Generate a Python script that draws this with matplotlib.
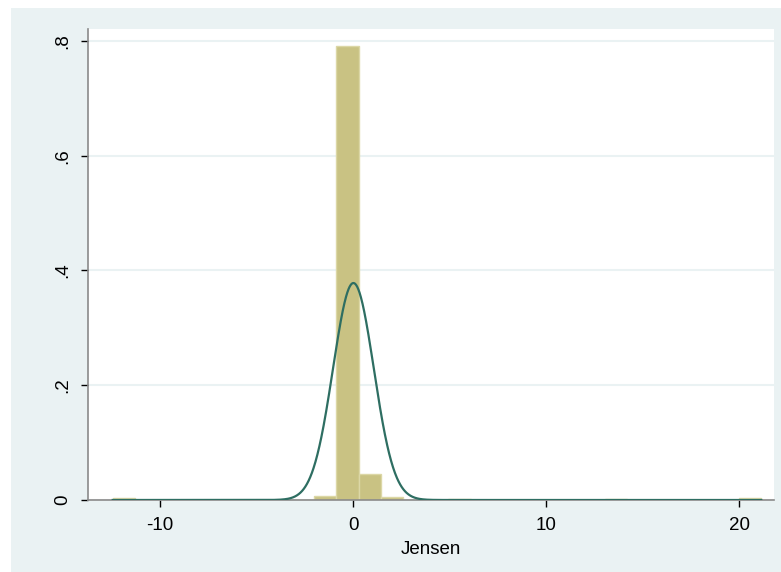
import numpy as np
import matplotlib
matplotlib.use("Agg")
import matplotlib.pyplot as plt
from matplotlib.patches import Rectangle

plt.rcParams['font.family'] = ['Liberation Sans', 'DejaVu Sans']

# Histogram of Jensen's alpha (density scale)
bin_start = -12.45
bin_width = 1.1586
bin_density = [0.0028, 0, 0, 0, 0, 0, 0, 0, 0, 0.0075,
               0.792, 0.046, 0.0046, 0, 0, 0.0026, 0, 0, 0, 0,
               0, 0, 0.0026, 0, 0, 0, 0, 0, 0.0028]

# Normal density overlay parameters
norm_mean = 0.02
norm_sd = 1.055

x_ticks = [-10, 0, 10, 20]
y_ticks = [0, 0.2, 0.4, 0.6, 0.8]
y_tick_labels = ["0", ".2", ".4", ".6", ".8"]
x_title = "Jensen"

bg = "#EAF2F3"
bar_fill = "#C9C283"
bar_edge = "#DCD7A6"
curve_col = "#2E6E62"

fig = plt.figure(figsize=(7.81, 5.72), dpi=100)
fig.patch.set_facecolor("white")
fig.patches.append(Rectangle((11 / 781, 0), 1 - 11 / 781, 1 - 8 / 572,
                             transform=fig.transFigure, facecolor=bg,
                             edgecolor="none", zorder=-10))

ax = fig.add_axes([88 / 781, 1 - 500 / 572, (774 - 88) / 781, (500 - 29) / 572])
ax.set_facecolor("white")

n_bins = len(bin_density)
edges = bin_start + bin_width * np.arange(n_bins + 1)
ax.bar(edges[:-1], bin_density, width=bin_width, align="edge",
       color=bar_fill, edgecolor=bar_edge, linewidth=1.0, zorder=2)

xs = np.linspace(edges[0], edges[-1], 2000)
ys = np.exp(-0.5 * ((xs - norm_mean) / norm_sd) ** 2) / (norm_sd * np.sqrt(2 * np.pi))
ax.plot(xs, ys, color=curve_col, linewidth=1.6, zorder=3)

ax.set_xlim(-13.73, 21.81)
ax.set_ylim(0, 0.8209)

ax.set_xticks(x_ticks)
ax.set_xticklabels([str(t) for t in x_ticks])
ax.set_yticks(y_ticks)
ax.set_yticklabels(y_tick_labels, rotation=90, va="center")
ax.yaxis.grid(True, color=bg, linewidth=1.5, zorder=0)
ax.set_axisbelow(True)

ax.tick_params(axis="both", direction="out", length=5, width=1, color="black",
               labelsize=13.5, pad=7)
for side in ["top", "right"]:
    ax.spines[side].set_visible(False)
for side in ["left", "bottom"]:
    ax.spines[side].set_color("#8A8A8A")
    ax.spines[side].set_linewidth(1.2)

ax.set_xlabel(x_title, fontsize=13.5, labelpad=5)

fig.savefig("out.png", dpi=100, facecolor=fig.get_facecolor())
